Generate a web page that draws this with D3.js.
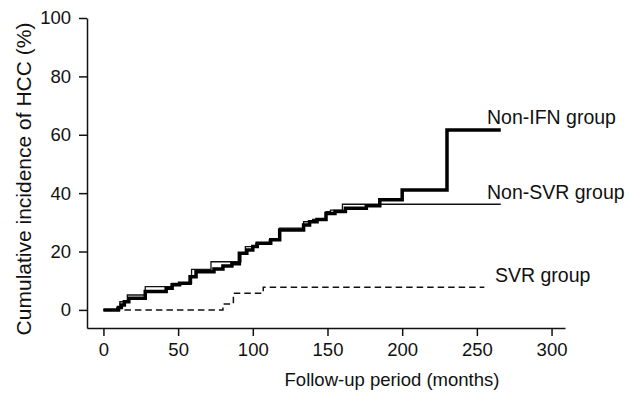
<!DOCTYPE html>
<html>
<head>
<meta charset="utf-8">
<script src="https://cdn.jsdelivr.net/npm/d3@7"></script>
<style>
  body { margin: 0; background: #fff; }
  svg text { font-family: "Liberation Sans", Arial, sans-serif; fill: #111; }
</style>
</head>
<body>
<svg id="chart"></svg>
<script>
let width = 631;
let height = 395;

// Kaplan-Meier style steps: [month, cumulative %], step begins at that month
const nonIfn = [
  [0, 0], [10, 0.8], [12, 1.7], [14, 2.8], [17, 4.0], [28, 6.3], [42, 7.4], [46, 8.6],
  [51, 9.1], [58, 11.4], [62, 13.1], [74, 14.0], [80, 15.0], [86, 15.8], [91, 19.4],
  [96, 20.5], [100, 21.7], [103, 22.8], [112, 24.0], [118, 27.4], [134, 29.1], [138, 30.2],
  [143, 31.0], [149, 33.0], [155, 33.7], [162, 34.8], [176, 35.7], [185, 37.7], [200, 41.1],
  [230, 61.6], [266, 61.6]
];
const nonSvr = [
  [0, 0], [9, 0.8], [11, 2.8], [16, 5.1], [28, 8.0], [46, 9.1], [59, 13.9], [72, 16.5],
  [92, 19.4], [95, 21.7], [102, 22.8], [111, 24.0], [118, 28.0], [134, 30.2], [140, 31.0],
  [149, 33.7], [152, 34.2], [160, 36.2], [266, 36.2]
];
const svr = [[0, 0], [80, 2.0], [87, 5.7], [107, 7.8], [255, 7.8]];

const xTicks = [0, 50, 100, 150, 200, 250, 300];
const yTicks = [0, 20, 40, 60, 80, 100];

const labels = [
  { text: 'Non-IFN group', x: 487, y: 124 },
  { text: 'Non-SVR group', x: 487, y: 199 },
  { text: 'SVR group', x: 495, y: 282 }
];

let svg = d3.select('#chart')
  .attr('width', width)
  .attr('height', height);

// axes start a little before 0 on both scales
let x = d3.scaleLinear()
  .domain([-11, 309])
  .range([87, 565]);

let y = d3.scaleLinear()
  .domain([-6.2, 100])
  .range([328, 18]);

let xAxis = g => g
  .attr('transform', `translate(0,${y.range()[0]})`)
  .call(d3.axisBottom(x).tickValues(xTicks).tickSize(8).tickPadding(7).tickSizeOuter(0))
  .call(g => g.selectAll('text').attr('font-size', 18.5));

let yAxis = g => g
  .attr('transform', `translate(${x.range()[0]},0)`)
  .call(d3.axisLeft(y).tickValues(yTicks).tickSize(8).tickPadding(8).tickSizeOuter(0))
  .call(g => g.selectAll('text').attr('font-size', 18.5));

svg.append('g').call(xAxis);
svg.append('g').call(yAxis);
svg.selectAll('.domain, .tick line').attr('stroke', '#111').attr('stroke-width', 1.5);

let line = d3.line()
  .x(d => x(d[0]))
  .y(d => y(d[1]))
  .curve(d3.curveStepAfter);

svg.append('path')
  .datum(svr)
  .attr('d', line)
  .attr('fill', 'none')
  .attr('stroke', '#111')
  .attr('stroke-width', 1.5)
  .attr('stroke-dasharray', '6.5,4');

svg.append('path')
  .datum(nonSvr)
  .attr('d', line)
  .attr('fill', 'none')
  .attr('stroke', '#111')
  .attr('stroke-width', 1.3);

svg.append('path')
  .datum(nonIfn)
  .attr('d', line)
  .attr('fill', 'none')
  .attr('stroke', '#000')
  .attr('stroke-width', 3.5);

svg.append('g')
  .selectAll('text')
  .data(labels)
  .enter()
  .append('text')
    .attr('x', d => d.x)
    .attr('y', d => d.y)
    .attr('font-size', 19.5)
    .text(d => d.text);

svg.append('text')
  .attr('text-anchor', 'middle')
  .attr('x', 392)
  .attr('y', 386)
  .attr('font-size', 18.5)
  .text('Follow-up period (months)');

svg.append('text')
  .attr('text-anchor', 'middle')
  .attr('transform', 'translate(31,179) rotate(-90)')
  .attr('font-size', 21)
  .text('Cumulative incidence of HCC (%)');
</script>
</body>
</html>
